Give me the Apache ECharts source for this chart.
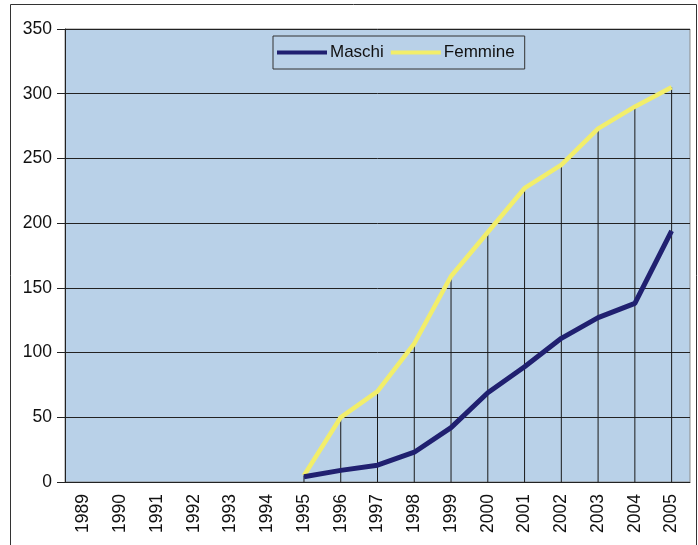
<!DOCTYPE html>
<html><head><meta charset="utf-8">
<script src="https://cdn.jsdelivr.net/npm/echarts@6/dist/echarts.min.js"></script>
<style>html,body{margin:0;padding:0;background:#fff}#c{width:698px;height:545px}</style>
</head><body><div id="c"></div>
<script>
const years = ['1989','1990','1991','1992','1993','1994','1995','1996','1997','1998','1999','2000','2001','2002','2003','2004','2005'];
const maschi = [null,null,null,null,null,null,4,9,13,23,42,69,89,111,127,138,194];
const femmine = [null,null,null,null,null,null,5,50,70,107,159,193,227,245,273,290,305];
const yTicks = {min:0, max:350, interval:50};
const dropTops = years.map((_, i) => {
  const a = maschi[i], b = femmine[i];
  if (a == null && b == null) return null;
  return Math.max(a ?? -Infinity, b ?? -Infinity);
});
const chart = echarts.init(document.getElementById('c'), null, {renderer:'canvas'});
chart.setOption({
  animation:false,
  textStyle:{fontFamily:'Liberation Sans, Arial, sans-serif'},
  graphic:[{type:'rect', shape:{x:10.5,y:4.5,width:686,height:545}, style:{fill:'none', stroke:'#333', lineWidth:1}, silent:true}],
  grid:{left:65, right:8, top:29, bottom:63, show:true, backgroundColor:'#B9D1E8', borderColor:'#8a8a8a', borderWidth:1},
  legend:{
    left:273, top:36, padding:[8,10,8,4], itemGap:7, itemWidth:50, itemHeight:4,
    borderColor:'#333', borderWidth:1,
    data:[{name:'Maschi', icon:'rect'},{name:'Femmine', icon:'rect'}],
    textStyle:{fontSize:17, color:'#111', padding:[0,0,0,-2]}
  },
  xAxis:{
    type:'category', data:years, boundaryGap:true,
    axisLine:{lineStyle:{color:'#222', width:1}},
    axisTick:{show:false},
    axisLabel:{rotate:90, fontSize:17.5, color:'#111', margin:12},
    splitLine:{show:false}
  },
  yAxis:{
    type:'value', min:yTicks.min, max:yTicks.max, interval:yTicks.interval,
    axisLine:{show:true, lineStyle:{color:'#222'}},
    axisTick:{show:true, length:8, lineStyle:{color:'#222'}},
    axisLabel:{fontSize:17.5, color:'#111', margin:13},
    splitLine:{lineStyle:{color:'#222', width:1}}
  },
  series:[
    {name:'drop', type:'bar', data:dropTops, barWidth:1, itemStyle:{color:'#1a1a1a'}, silent:true, z:1, legendHoverLink:false},
    {name:'Maschi', type:'line', data:maschi, symbol:'none', lineStyle:{color:'#202070', width:5}, itemStyle:{color:'#202070'}, z:3},
    {name:'Femmine', type:'line', data:femmine, symbol:'none', lineStyle:{color:'#F2EE6A', width:4.5}, itemStyle:{color:'#F2EE6A'}, z:2}
  ]
});
</script></body></html>
